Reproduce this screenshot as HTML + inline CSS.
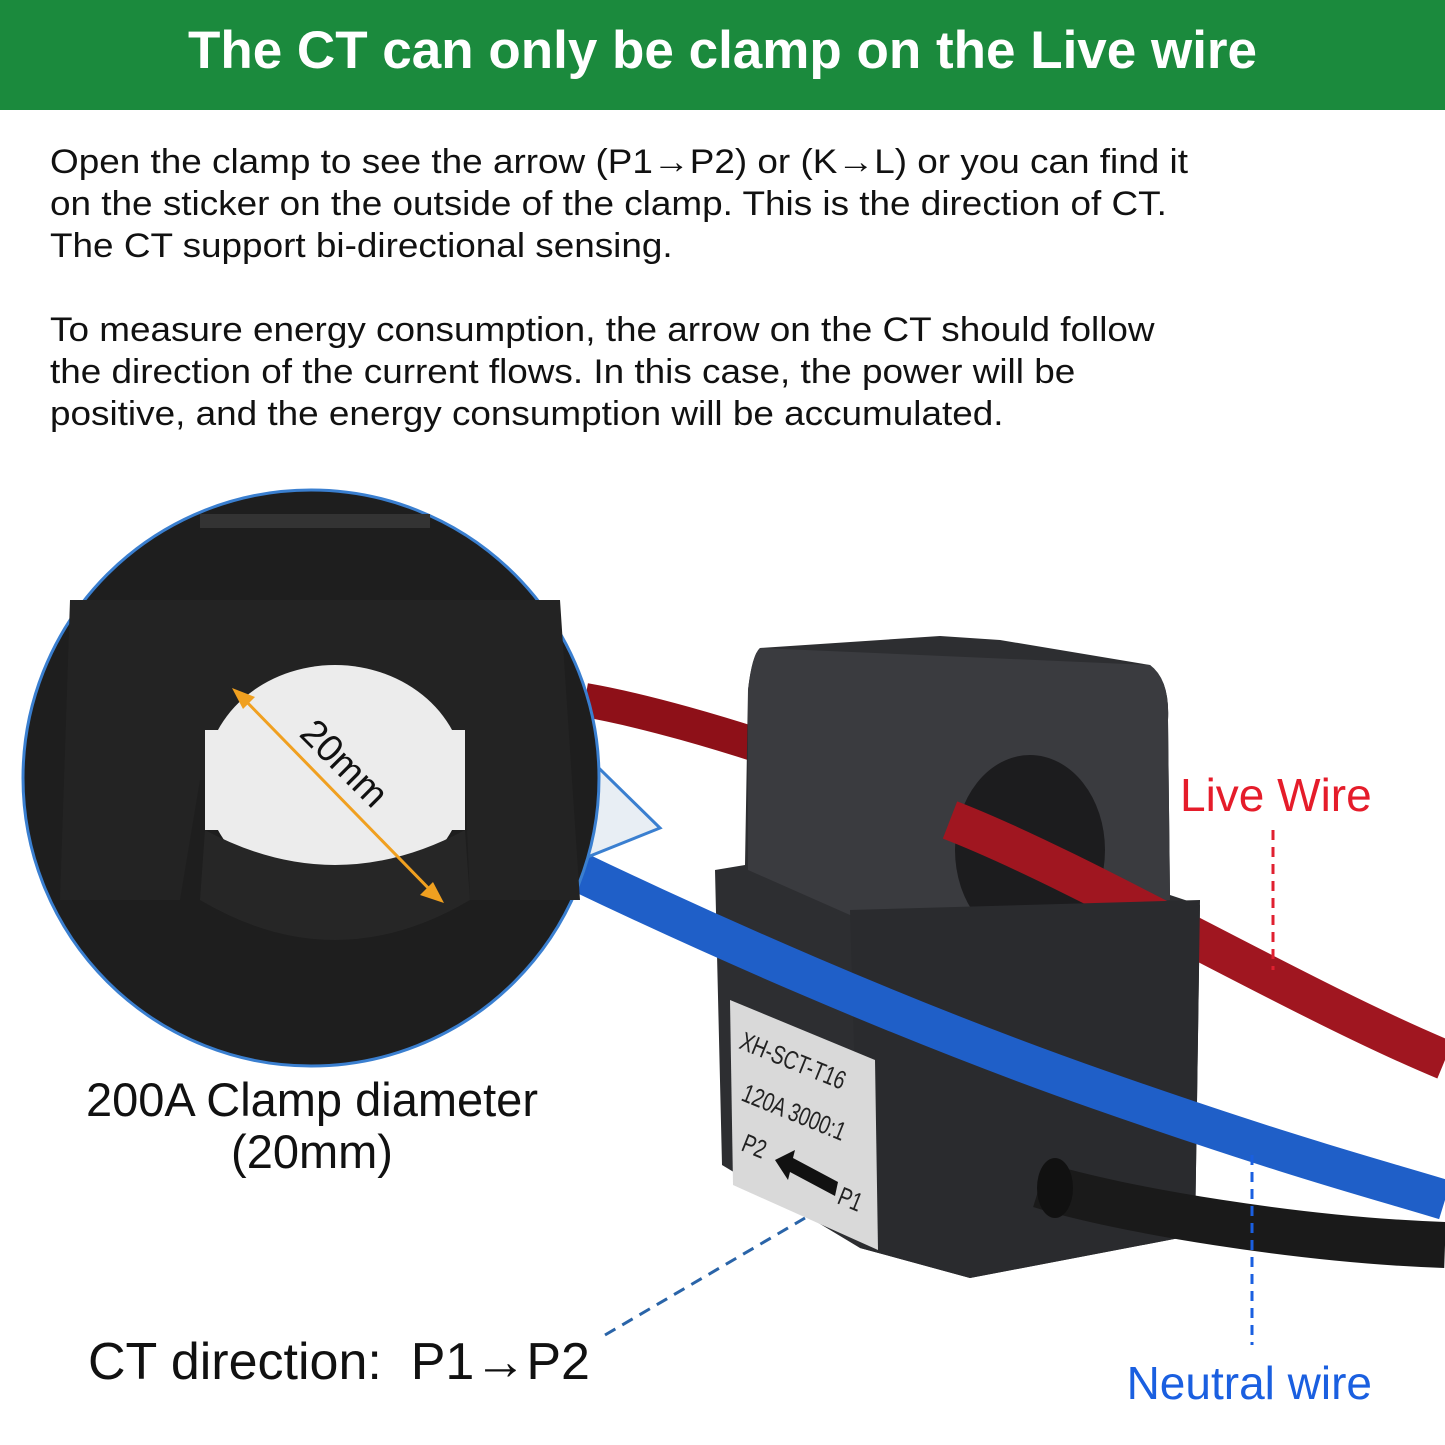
<!DOCTYPE html>
<html><head><meta charset="utf-8">
<style>
html,body{margin:0;padding:0;background:#fff;}
body{width:1445px;height:1445px;position:relative;overflow:hidden;font-family:"Liberation Sans","DejaVu Sans",sans-serif;}
.hdr{position:absolute;left:0;top:0;width:1445px;height:110px;background:#1b8a3d;color:#fff;font-size:53px;font-weight:bold;text-align:center;line-height:102px;}
.p{position:absolute;left:50px;font-size:34px;line-height:42px;color:#111;white-space:nowrap;transform:scaleX(1.085);transform-origin:0 0;}
.lbl{position:absolute;white-space:nowrap;}
svg{position:absolute;left:0;top:0;}
</style></head><body>
<div class="hdr">The CT can only be clamp on the Live wire</div>
<div class="p" style="top:141px">Open the clamp to see the arrow (P1→P2) or (K→L) or you can find it<br>on the sticker on the outside of the clamp. This is the direction of CT.<br>The CT support bi-directional sensing.</div>
<div class="p" style="top:309px">To measure energy consumption, the arrow on the CT should follow<br>the direction of the current flows. In this case, the power will be<br>positive, and the energy consumption will be accumulated.</div>

<svg width="1445" height="1445" viewBox="0 0 1445 1445">
  <path d="M585 700 C 700 720, 900 790, 1000 840" stroke="#8e1018" stroke-width="34" fill="none"/>
  <path d="M760 648 L940 636 L1000 640 L1150 665 Q1170 680 1168 720 L1170 895 L1200 905 L1195 1235 L970 1278 L860 1248 L722 1165 L715 870 L745 865 L748 690 Q752 655 760 648 Z" fill="#2d2e31"/>
  <path d="M760 648 L1150 665 Q1170 680 1168 720 L1170 900 L850 915 L748 870 L748 690 Q752 655 760 648Z" fill="#3a3b3f"/>
  <ellipse cx="1030" cy="850" rx="75" ry="95" fill="#1c1c1e"/>
  <path d="M950 820 C 1080 870, 1300 1000, 1445 1060" stroke="#a01620" stroke-width="40" fill="none"/>
  <path d="M850 910 L1200 900 L1195 1235 L970 1278 L860 1248 Z" fill="#2a2b2e"/>
  <path d="M575 870 C 700 930, 900 1020, 1100 1090 S 1380 1180, 1445 1200" stroke="#1f5fc8" stroke-width="40" fill="none"/>
  <path d="M1040 1185 C 1120 1210, 1300 1240, 1445 1245" stroke="#1a1a1a" stroke-width="46" fill="none"/>
  <ellipse cx="1055" cy="1188" rx="18" ry="30" fill="#111"/>
  <path d="M730 1000 L875 1060 L878 1250 L733 1185 Z" fill="#d9d9d9"/>
  <g font-family="Liberation Sans,sans-serif" fill="#222" font-size="26">
    <text transform="translate(738,1048) rotate(22) scale(0.75,1)">XH-SCT-T16</text>
    <text transform="translate(740,1100) rotate(22) scale(0.75,1)">120A 3000:1</text>
    <text transform="translate(740,1150) rotate(22) scale(0.75,1)">P2</text>
    <text transform="translate(836,1203) rotate(22) scale(0.75,1)">P1</text>
  </g>
  <path d="M775 1160 L795 1150 L793 1158 L838 1182 L835 1196 L790 1172 L788 1180 Z" fill="#111"/>
  <path d="M560 730 L660 828 L580 860 Z" fill="#e8eef4" stroke="#3a7fd0" stroke-width="3"/>
  <circle cx="311" cy="778" r="288" fill="#1e1e1e" stroke="#3a7fd0" stroke-width="3"/>
  <rect x="200" y="514" width="230" height="14" fill="#333"/>
  <path d="M70 600 L560 600 L580 900 L470 900 L465 780 L200 780 L180 900 L60 900 Z" fill="#232323"/>
  <ellipse cx="335" cy="780" rx="130" ry="115" fill="#ececec"/>
  <rect x="205" y="730" width="260" height="100" fill="#ececec"/>
  <path d="M205 830 Q335 900 465 830 L470 900 Q335 980 200 900Z" fill="#262626"/>
  <line x1="240" y1="695" x2="438" y2="898" stroke="#f0a020" stroke-width="3"/>
  <path d="M232 688 L255 697 L243 709 Z" fill="#f0a020"/>
  <path d="M444 903 L420 895 L433 882 Z" fill="#f0a020"/>
  <text transform="translate(298,735) rotate(45)" font-family="Liberation Sans,sans-serif" font-size="38" fill="#111">20mm</text>
  <line x1="1273" y1="830" x2="1273" y2="970" stroke="#e02030" stroke-width="3" stroke-dasharray="10,7"/>
  <line x1="1252" y1="1155" x2="1252" y2="1345" stroke="#1a5fe0" stroke-width="3" stroke-dasharray="10,7"/>
  <line x1="605" y1="1335" x2="805" y2="1218" stroke="#2a64a8" stroke-width="3" stroke-dasharray="12,8"/>
</svg>

<div class="lbl" style="left:1180px;top:768px;font-size:46px;color:#e51c2a;">Live Wire</div>
<div class="lbl" style="right:73px;top:1356px;font-size:46px;color:#1a5fe0;">Neutral wire</div>
<div class="lbl" style="left:60px;width:504px;top:1074px;font-size:47px;line-height:52px;text-align:center;color:#111;">200A Clamp diameter<br>(20mm)</div>
<div class="lbl" style="left:88px;top:1332px;font-size:52px;color:#111;">CT direction:&nbsp; P1→P2</div>
</body></html>
